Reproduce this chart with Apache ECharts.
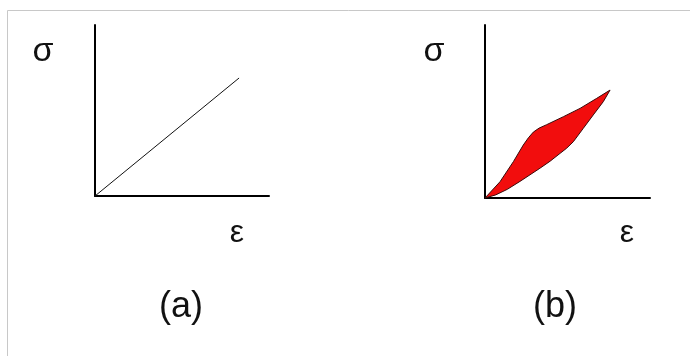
<!DOCTYPE html>
<html>
<head>
<meta charset="utf-8">
<script src="https://cdn.jsdelivr.net/npm/echarts@6/dist/echarts.min.js"></script>
<style>
  html, body { margin: 0; padding: 0; background: #fff; }
  #chart { width: 690px; height: 356px; }
</style>
</head>
<body>
<div id="chart"></div>
<script>
// (a) linear elastic: stress rises straight with strain
const linearCurve = [[0, 0], [82.8, 69]]
// (b) hysteresis loop: loading branch (upper) then unloading branch (lower)
const loadingBranch = [[0, 0], [9.1, 9.4], [17.2, 21], [23.2, 30.6], [26.3, 34.8], [29.3, 38.1], [32.8, 40.4], [37.4, 42.4], [47.5, 47], [57.6, 51.8], [67.7, 57.6], [75.8, 62.4]]
const unloadingBranch = [[71.7, 55.7], [65.6, 48], [59.6, 40.3], [53.5, 32.5], [49.5, 28.8], [45.5, 25.8], [39.5, 21.3], [33.3, 17.2], [21.2, 9.6], [13.5, 5], [6.5, 1.8]]
const panelLabels = ['(a)', '(b)']
const axisNames = ['σ', 'ε']

const chart = echarts.init(document.getElementById('chart'))

const axisStyle = {
  type: 'value', min: 0, max: 100,
  axisLine: { show: true, onZero: false, lineStyle: { color: '#000', width: 2 } },
  axisTick: { show: false }, axisLabel: { show: false }, splitLine: { show: false }
}

const loop = loadingBranch.concat(unloadingBranch)

const txt = (s, x, y, size) => ({
  type: 'text', x: x, y: y,
  style: { text: s, fill: '#111', font: size + 'px "Liberation Sans", Arial, sans-serif', align: 'center', verticalAlign: 'middle' }
})

const option = {
  animation: false,
  backgroundColor: '#fff',
  grid: [
    { left: 95, top: 25, width: 174, height: 171 },
    { left: 485, top: 25, width: 165, height: 173 }
  ],
  xAxis: [Object.assign({ gridIndex: 0 }, axisStyle), Object.assign({ gridIndex: 1 }, axisStyle)],
  yAxis: [Object.assign({ gridIndex: 0 }, axisStyle), Object.assign({ gridIndex: 1 }, axisStyle)],
  series: [
    {
      type: 'line', xAxisIndex: 0, yAxisIndex: 0,
      data: linearCurve, symbol: 'none',
      lineStyle: { color: '#111', width: 1 }
    },
    {
      type: 'custom', xAxisIndex: 1, yAxisIndex: 1,
      data: loop,
      renderItem: function (params, api) {
        if (params.dataIndex !== 0) return
        const pts = loop.map(p => api.coord(p))
        return {
          type: 'polygon',
          shape: { points: pts },
          style: { fill: '#f20d0d', stroke: '#3a0a0a', lineWidth: 1 }
        }
      }
    }
  ],
  graphic: [
    { type: 'polyline', shape: { points: [[7.5, 356], [7.5, 10.5], [690, 10.5]] }, style: { stroke: '#c8c8c8', lineWidth: 1, fill: null } },
    txt(axisNames[0], 43, 52, 34),
    txt(axisNames[1], 237, 233, 32),
    txt(panelLabels[0], 181, 307, 36),
    txt(axisNames[0], 434, 52, 34),
    txt(axisNames[1], 627, 233, 32),
    txt(panelLabels[1], 555, 307, 36)
  ]
}

chart.setOption(option)
</script>
</body>
</html>
